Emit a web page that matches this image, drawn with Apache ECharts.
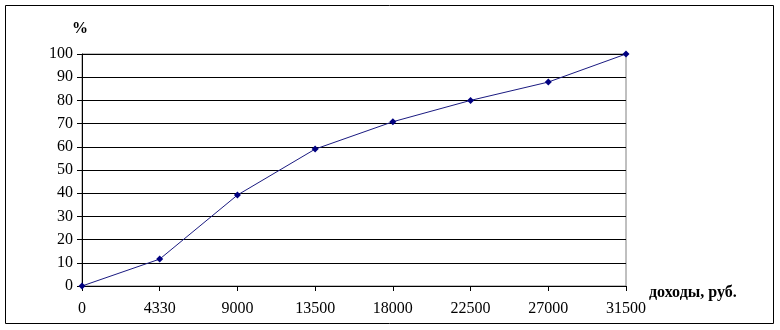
<!DOCTYPE html>
<html><head><meta charset="utf-8">
<script src="https://cdn.jsdelivr.net/npm/echarts@6/dist/echarts.min.js"></script>
<style>html,body{margin:0;padding:0;background:#fff}#c{width:780px;height:330px}</style>
</head><body><div id="c"></div>
<script>
var categories = ['0','4330','9000','13500','18000','22500','27000','31500'];
var values = [0, 11.6, 39.2, 59, 70.8, 80, 87.9, 100];
var yTicks = [0,10,20,30,40,50,60,70,80,90,100];
var yName = '%';
var xName = 'доходы, руб.';
var font = '"Liberation Serif", "Times New Roman", serif';
var chart = echarts.init(document.getElementById('c'));
chart.setOption({
  animation: false,
  backgroundColor: '#fff',
  graphic: [
    {type:'rect', shape:{x:5.5,y:5.5,width:768,height:318}, style:{fill:null, stroke:'#000', lineWidth:1}, silent:true},
    {type:'text', left:72, top:21, style:{text:yName, font:'bold 16px ' + font, fill:'#000'}},
    {type:'text', left:649, top:285, style:{text:xName, font:'bold 16px ' + font, fill:'#000'}}
  ],
  grid: {left:82, right:154, top:54, bottom:44, show:true, borderColor:'#808080', borderWidth:1, backgroundColor:'transparent'},
  xAxis: {
    type:'category', data: categories, boundaryGap:false,
    axisLine:{show:true, lineStyle:{color:'#000', width:1}},
    axisTick:{show:true, length:5, inside:false, lineStyle:{color:'#000'}},
    axisLabel:{color:'#000', fontFamily:font, fontSize:16, margin:15},
    splitLine:{show:false}
  },
  yAxis: {
    type:'value', min:0, max:100, interval:10,
    axisLine:{show:true, lineStyle:{color:'#000', width:1}},
    axisTick:{show:true, length:5, lineStyle:{color:'#000'}},
    axisLabel:{color:'#000', fontFamily:font, fontSize:16, margin:9,
      formatter:function(v){return yTicks.indexOf(v)>=0 ? String(v) : '';}},
    splitLine:{show:true, lineStyle:{color:'#000', width:1}}
  },
  series: [{
    type:'line', data: values,
    symbol:'diamond', symbolSize:7, showSymbol:true,
    lineStyle:{color:'#1a1a80', width:1},
    itemStyle:{color:'#000080'}
  }]
});
</script></body></html>
